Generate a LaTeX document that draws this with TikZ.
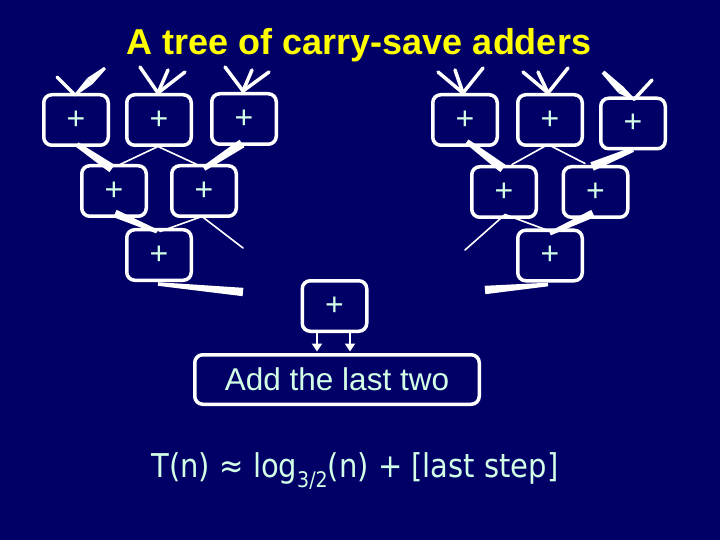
\documentclass[tikz,border=0pt]{standalone}
\usepackage{fontspec}
\setmainfont{Liberation Sans}
\newfontfamily\formfont{DejaVu Sans}
\usetikzlibrary{calc,arrows.meta}
\definecolor{bgnavy}{RGB}{0,0,102}
\definecolor{titleyellow}{RGB}{255,255,0}
\definecolor{mint}{RGB}{210,255,230}
\newcommand\taper[4]{\fill[white] ($(#1)!#3!90:(#2)$) -- ($(#1)!#3!-90:(#2)$) -- ($(#2)!#4!90:(#1)$) -- ($(#2)!#4!-90:(#1)$) -- cycle;}
\begin{document}
\begin{tikzpicture}[x=1pt,y=-1pt,
  adder/.style={draw=white, line width=3.5pt, rounded corners=8pt, minimum width=64.5pt, minimum height=50.5pt, text=mint, font=\fontsize{32}{32}\selectfont, inner sep=0pt},
  lastbox/.style={draw=white, line width=3.5pt, rounded corners=8pt, minimum width=284.5pt, minimum height=49.5pt, text=mint, font=\fontsize{31.5}{31.5}\selectfont, inner sep=0pt},
  inwire/.style={draw=white, line width=3.5pt, line cap=round},
  thinwire/.style={draw=white, line width=1.6pt, line cap=round},
  outarrow/.style={draw=white, line width=2.8pt, -{Triangle[width=10pt,length=8pt]}}]
\fill[bgnavy] (0,0) rectangle (720,540);
\useasboundingbox (0,0) rectangle (720,540);
\node[text=titleyellow, font=\bfseries\fontsize{36}{36}\selectfont, anchor=base] (title) at (359,55) {A tree of carry-save adders};
% boxes
\node[adder] (b1) at (76,120) {+};
\node[adder] (b2) at (159,120) {+};
\node[adder] (b3) at (244,119) {+};
\node[adder] (b4) at (114,191) {+};
\node[adder] (b5) at (204,191) {+};
\node[adder] (b6) at (159,255) {+};
\node[adder] (b7) at (465,120) {+};
\node[adder] (b8) at (550,120) {+};
\node[adder] (b9) at (633,123.5) {+};
\node[adder] (b10) at (504,192) {+};
\node[adder] (b11) at (595.5,192) {+};
\node[adder] (b12) at (550,255.5) {+};
\node[adder] (bf) at (334.5,306) {+};
\node[lastbox] (add) at (337,379.5) {Add the last two};
% input points
\coordinate (t1) at ($(b1.north)+(-1,2)$);
\coordinate (t2) at ($(b2.north)+(-1,0)$);
\coordinate (t3) at ($(b3.north)+(-1,-1)$);
\coordinate (t7) at ($(b7.north)+(-2,0)$);
\coordinate (t8) at ($(b8.north)+(-2,0)$);
\coordinate (t9) at ($(b9.north)+(1,3)$);
\coordinate (i1a) at (57,77); \coordinate (i1b) at (105,68); \coordinate (i1m) at (90,81);
\coordinate (i2a) at (140,67); \coordinate (i2b) at (168,70); \coordinate (i2c) at (185,72);
\coordinate (i3a) at (225,67); \coordinate (i3b) at (252,70); \coordinate (i3c) at (269,72);
\coordinate (i7a) at (438,72); \coordinate (i7b) at (455,70); \coordinate (i7c) at (483,68);
\coordinate (i8a) at (523,72); \coordinate (i8b) at (538,72); \coordinate (i8c) at (568,68);
\coordinate (i9a) at (603,72); \coordinate (i9m) at (621,90); \coordinate (i9b) at (652,80);
\draw[inwire] (i1a) -- (t1);
\taper{i1b}{i1m}{1.4pt}{4pt}
\taper{i1m}{t1}{4pt}{1pt}
\foreach \s in {i2a,i2b,i2c} \draw[inwire] (\s) -- (t2);
\foreach \s in {i3a,i3b,i3c} \draw[inwire] (\s) -- (t3);
\foreach \s in {i7a,i7b,i7c} \draw[inwire] (\s) -- (t7);
\foreach \s in {i8a,i8b,i8c} \draw[inwire] (\s) -- (t8);
\taper{i9a}{i9m}{2pt}{4pt}
\taper{i9m}{t9}{4pt}{1pt}
\draw[inwire] (i9b) -- (t9);
% left group connectors
\coordinate (s1) at ($(b1.south)+(1,-2.5)$);
\coordinate (s2) at ($(b2.south)+(-1,-0.5)$);
\coordinate (s3) at ($(b3.south)+(-2,-2.5)$);
\coordinate (s4) at ($(b4.south)+(1,-4.5)$);
\coordinate (s5) at ($(b5.south)+(-2,-1.5)$);
\coordinate (s6) at ($(b6.south)+(-1,2)$);
\coordinate (n4a) at ($(b4.north)+(-2,4.5)$);
\coordinate (n4b) at ($(b4.north)+(6,0.5)$);
\coordinate (n5a) at ($(b5.north)+(-7,0.5)$);
\coordinate (n5b) at ($(b5.north)+(0,4.5)$);
\coordinate (n6a) at ($(b6.north)+(-2,3.5)$);
\coordinate (n6b) at ($(b6.north)+(1,3.5)$);
\coordinate (oL1) at (243,248);
\coordinate (oL2) at (243,292);
\taper{s1}{n4a}{2.5pt}{4.5pt}
\draw[thinwire] (s2) -- (n4b);
\draw[thinwire] (s2) -- (n5a);
\taper{s3}{n5b}{4.5pt}{2.5pt}
\taper{s4}{n6a}{4pt}{2pt}
\draw[thinwire] (s5) -- (n6b);
\draw[thinwire] (s5) -- (oL1);
\taper{s6}{oL2}{1.8pt}{4.2pt}
% right group connectors
\coordinate (s7) at ($(b7.south)+(2,-5.5)$);
\coordinate (s8) at ($(b8.south)+(-2,-2.5)$);
\coordinate (s9) at ($(b9.south)+(0,-1)$);
\coordinate (s10) at ($(b10.south)+(1,-4.5)$);
\coordinate (s11) at ($(b11.south)+(-2.5,-5.5)$);
\coordinate (s12) at ($(b12.south)+(-2,2)$);
\coordinate (n10a) at ($(b10.north)+(-1,3.5)$);
\coordinate (n10b) at ($(b10.north)+(8,-0.5)$);
\coordinate (n11a) at ($(b11.north)+(-10.5,-1.5)$);
\coordinate (n11b) at ($(b11.north)+(-3.5,1.5)$);
\coordinate (n12a) at ($(b12.north)+(-2,2)$);
\coordinate (n12b) at ($(b12.north)+(0,5)$);
\coordinate (oR1) at (465,250);
\coordinate (oR2) at (485,290);
\taper{s7}{n10a}{2.5pt}{4.5pt}
\draw[thinwire] (s8) -- (n10b);
\draw[thinwire] (s8) -- (n11a);
\taper{s9}{n11b}{2.5pt}{4.5pt}
\draw[thinwire] (s10) -- (n12a);
\draw[thinwire] (s10) -- (oR1);
\taper{s11}{n12b}{4pt}{2pt}
\taper{s12}{oR2}{1.8pt}{4.2pt}
% final arrows
\draw[outarrow] ($(bf.south)+(-17.5,0)$) -- ($(add.north)+(-20,-1.5)$);
\draw[outarrow] ($(bf.south)+(15.5,0)$) -- ($(add.north)+(13,-1.5)$);
% formula
\node[text=mint, font=\formfont\fontsize{29}{29}\selectfont, anchor=base, inner sep=0pt] (formula) at (355,477) {\scalebox{1}[1.13]{T(n) ≈ log\raisebox{-9pt}{\fontsize{19}{19}\selectfont 3/2}(n) + [last step]}};
\end{tikzpicture}
\end{document}
